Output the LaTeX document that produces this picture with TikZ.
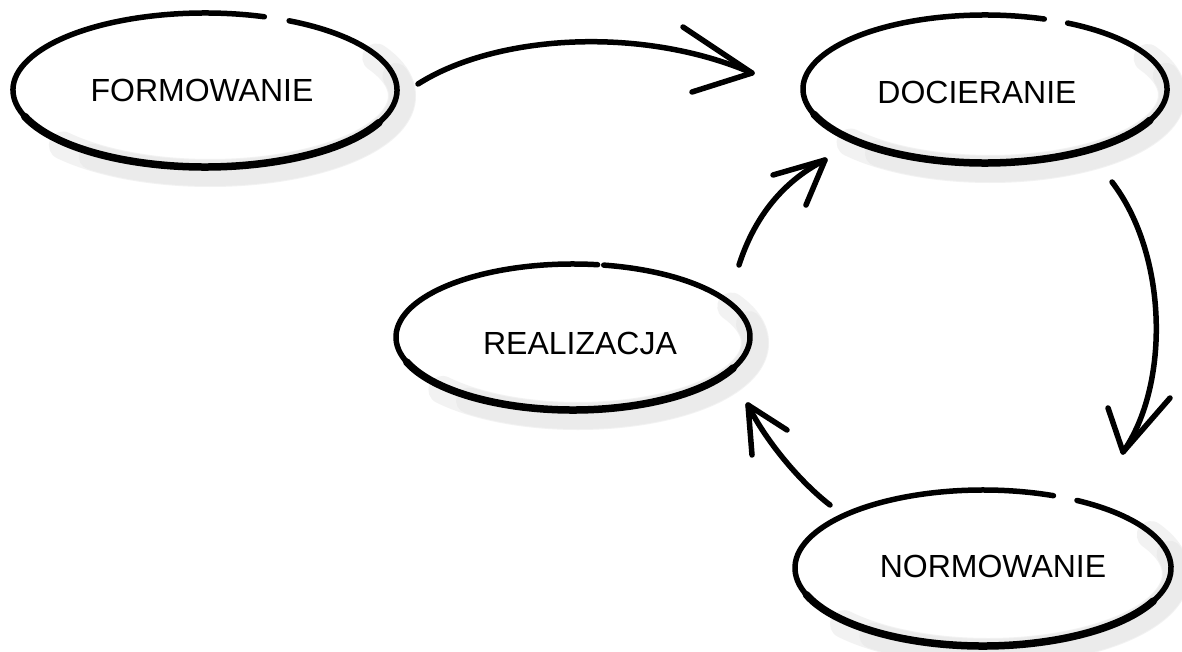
\documentclass[tikz,border=0pt]{standalone}
\usepackage{fontspec}
\setmainfont{Liberation Sans}
\tikzset{
  lbl/.style={inner sep=0pt, font=\fontsize{32}{38}\selectfont},
  ellline/.style={line width=5.5pt, line cap=round, black},
  ellbottom/.style={line width=7.5pt, line cap=round, black},
  shadowA/.style={line width=28pt, line cap=round, black!5},
  shadowB/.style={line width=26pt, line cap=round, black!8},
  handarrow/.style={line width=5.5pt, line cap=round, line join=round, black},
}
\newcommand{\handellipse}[5]{%
  \draw[shadowA] ([shift={(5,6)}]#1) ++(-30:#2 and #3) arc[start angle=-30, end angle=140, x radius=#2, y radius=#3];
  \draw[shadowB] ([shift={(5,6)}]#1) ++(-15:#2 and #3) arc[start angle=-15, end angle=128, x radius=#2, y radius=#3];
  \draw[ellline] (#1) ++(#4:#2 and #3) arc[start angle=#4, end angle=#5, x radius=#2, y radius=#3];
  \draw[ellbottom] (#1) ++(25:#2 and #3) arc[start angle=25, end angle=160, x radius=#2, y radius=#3];
}
\begin{document}
\begin{tikzpicture}[x=1pt,y=-1pt]
\useasboundingbox[fill=white] (0,0) rectangle (1182,652);

% ellipse centres
\coordinate (Fc) at (205,90);
\coordinate (Dc) at (985,89);
\coordinate (Rc) at (573,337);
\coordinate (Nc) at (983,568);

\handellipse{Fc}{192}{77}{-64}{288}
\handellipse{Dc}{182}{74}{-63}{289}
\handellipse{Rc}{177}{73}{-80}{278}
\handellipse{Nc}{188}{78}{-60}{292}

\node[lbl] (F) at (202,90) {FORMOWANIE};
\node[lbl] (D) at (977,92) {DOCIERANIE};
\node[lbl] (R) at (580,343) {REALIZACJA};
\node[lbl] (N) at (993,566) {NORMOWANIE};

% arrow end points
\coordinate (a1s) at (418,84);
\coordinate (a1t) at (752,73);
\coordinate (a1u) at (683,27);
\coordinate (a1l) at (692,92);

\coordinate (a2s) at (739,265);
\coordinate (a2t) at (825,160);
\coordinate (a2u) at (773,175);
\coordinate (a2l) at (806,205);

\coordinate (a3s) at (1112,182);
\coordinate (a3t) at (1123,452);
\coordinate (a3u) at (1108,408);
\coordinate (a3l) at (1170,398);

\coordinate (a4s) at (830,505);
\coordinate (a4t) at (748,405);
\coordinate (a4u) at (752,455);
\coordinate (a4l) at (787,430);

% FORMOWANIE -> DOCIERANIE
\draw[handarrow] (a1s) .. controls (495,35) and (640,25) .. (a1t);
\draw[handarrow] (a1u) -- (a1t) -- (a1l);
% REALIZACJA -> DOCIERANIE
\draw[handarrow] (a2s) .. controls (755,215) and (785,180) .. (a2t);
\draw[handarrow] (a2u) -- (a2t) -- (a2l);
% DOCIERANIE -> NORMOWANIE
\draw[handarrow] (a3s) .. controls (1168,255) and (1170,385) .. (a3t);
\draw[handarrow] (a3u) -- (a3t) -- (a3l);
% NORMOWANIE -> REALIZACJA
\draw[handarrow] (a4s) .. controls (800,482) and (765,440) .. (a4t);
\draw[handarrow] (a4u) -- (a4t) -- (a4l);
\end{tikzpicture}
\end{document}
